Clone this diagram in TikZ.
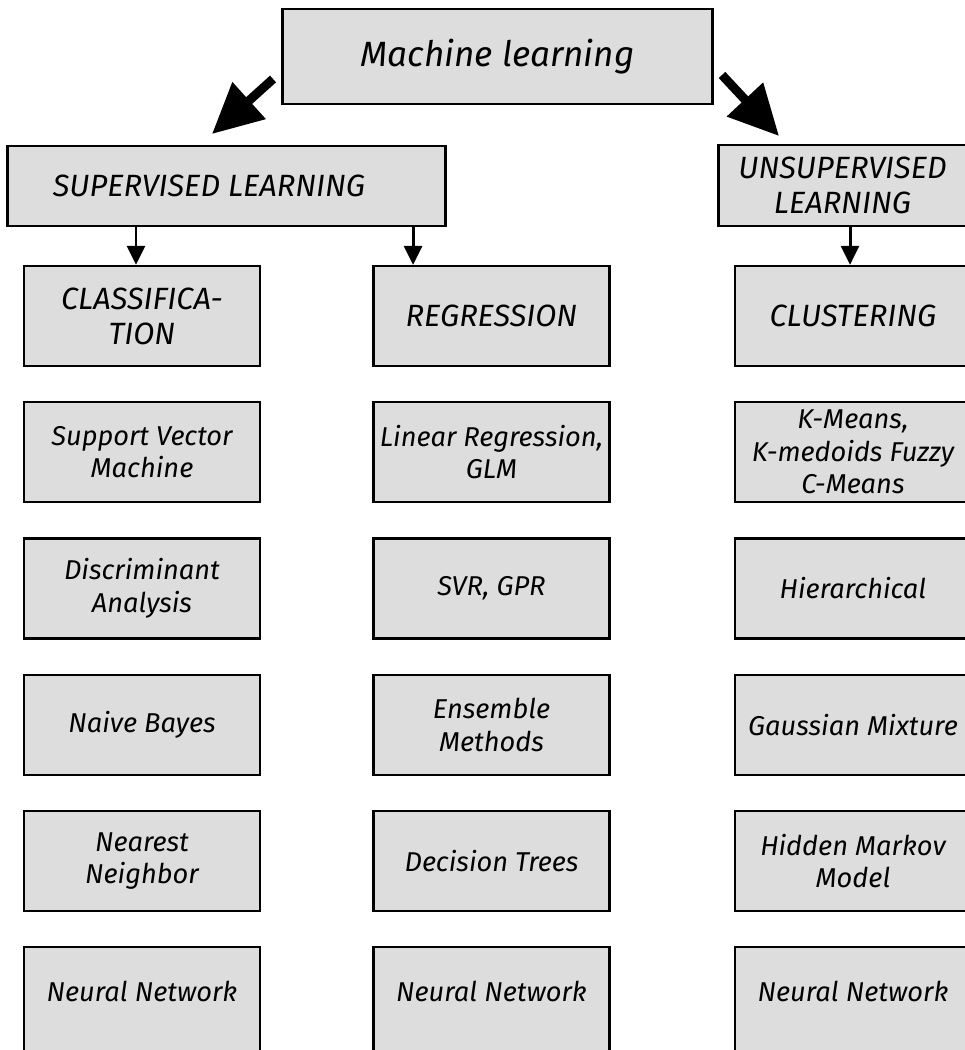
\documentclass[tikz,border=0pt]{standalone}
\usepackage{fontspec}
\setmainfont{Fira Sans}
\usetikzlibrary{positioning,arrows.meta}
\definecolor{boxgray}{RGB}{221,221,221}

\begin{document}
\begin{tikzpicture}[x=0.02cm,y=-0.02cm,
    box/.style={shape=rectangle,draw=black,line width=1.3pt,fill=boxgray,
        minimum width=4.72cm,minimum height=2cm,align=center,
        font=\itshape\fontsize{15.5}{18.5}\selectfont},
    capsbox/.style={box,font=\itshape\fontsize{17.5}{20}\selectfont},
    lastbox/.style={box,minimum height=2.25cm,text depth=0.5cm},
    bigarrow/.style={line width=0.18cm,-{Triangle[length=1cm,width=0.95cm]}},
    smallarrow/.style={line width=1.7pt,-{Triangle[length=0.38cm,width=0.36cm]}},
    node distance=0.68cm]
    \useasboundingbox (0,0) rectangle (964,1050);

    \node[capsbox,minimum width=8.6cm,minimum height=1.9cm,
        font=\itshape\fontsize{20}{24}\selectfont] (ml) at (497.5,56.5) {Machine learning};
    \node[capsbox,minimum width=8.76cm,minimum height=1.6cm] (sup) at (226.5,186) {SUPERVISED LEARNING\hspace*{0.7cm}};
    \node[capsbox,minimum width=4.96cm,minimum height=1.62cm] (uns) at (842.5,185.5) {UNSUPERVISED\\LEARNING};

    % supervised: classification
    \node[capsbox] (cls) at (142,316) {CLASSIFICA-\\TION};
    \node[box] (svm) [below=of cls] {Support Vector\\Machine};
    \node[box] (da) [below=of svm] {Discriminant\\Analysis};
    \node[box] (nb) [below=of da] {Naive Bayes};
    \node[box] (nn) [below=of nb] {Nearest\\Neighbor};
    \node[lastbox] (cnet) [below=of nn] {Neural Network};

    % supervised: regression
    \node[capsbox] (reg) at (491.5,316) {REGRESSION};
    \node[box] (lin) [below=of reg] {Linear Regression,\\GLM};
    \node[box] (svr) [below=of lin] {SVR, GPR};
    \node[box] (ens) [below=of svr] {Ensemble\\Methods};
    \node[box] (dt) [below=of ens] {Decision Trees};
    \node[lastbox] (rnet) [below=of dt] {Neural Network};

    % unsupervised: clustering
    \node[capsbox] (clu) at (853,316) {CLUSTERING};
    \node[box] (km) [below=of clu] {K-Means,\\K-medoids Fuzzy\\C-Means};
    \node[box] (hc) [below=of km] {Hierarchical};
    \node[box] (gm) [below=of hc] {Gaussian Mixture};
    \node[box] (hmm) [below=of gm] {Hidden Markov\\Model};
    \node[lastbox] (unet) [below=of hmm] {Neural Network};

    \coordinate (supstart) at (273,79);
    \coordinate (supend) at (212,134);
    \coordinate (unsstart) at (722,75);
    \coordinate (unsend) at (779,136);
    \draw[bigarrow] (supstart) -- (supend);
    \draw[bigarrow] (unsstart) -- (unsend);

    \draw[smallarrow] ([xshift=-0.12cm]cls.north |- sup.south) -- ([xshift=-0.12cm]cls.north);
    \draw[smallarrow] ([xshift=-1.57cm]reg.north |- sup.south) -- ([xshift=-1.57cm]reg.north);
    \draw[smallarrow] ([xshift=-0.06cm]clu.north |- uns.south) -- ([xshift=-0.06cm]clu.north);
\end{tikzpicture}
\end{document}
